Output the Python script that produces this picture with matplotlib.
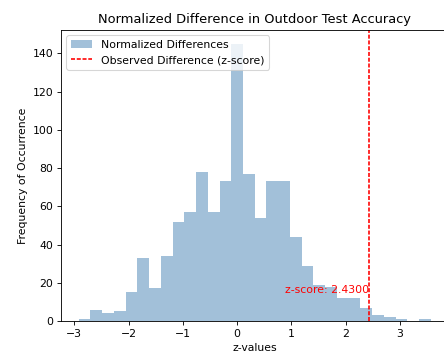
import matplotlib
matplotlib.use("Agg")
import matplotlib.pyplot as plt
import numpy as np

# Histogram of normalized differences, 30 bins
BIN_LO, BIN_HI = -2.92, 3.57
COUNTS = [1, 6, 4, 5, 15, 33, 17, 34, 52, 57,
          78, 57, 73, 145, 77, 54, 73, 73, 44, 29,
          19, 18, 12, 12, 7, 3, 2, 1, 0, 1]
# Observed difference as a z-score
Z_SCORE = 2.43

DPI = 78.125
fig = plt.figure(figsize=(444 / DPI, 352 / DPI), dpi=DPI)
# the reference is a cropped screenshot: the axes run past the right edge
ax = fig.add_axes([0.1374, 0.0881, 0.8727, 0.8267])

edges = np.linspace(BIN_LO, BIN_HI, len(COUNTS) + 1)
centers = (edges[:-1] + edges[1:]) / 2
ax.hist(centers, bins=edges, weights=COUNTS, color='steelblue', alpha=0.5,
        label='Normalized Differences')

# slightly thicker than 1pt so the thin dashes stay bright at this dpi,
# dash lengths kept the same as the default '--' at 1pt
ax.axvline(Z_SCORE, color='red', linestyle=(0, (2.47, 1.07)), linewidth=1.5,
           label='Observed Difference (z-score)')
ax.text(Z_SCORE, max(COUNTS) * 0.1, 'z-score: {:.4f}'.format(Z_SCORE),
        color='red', ha='right')

ax.set_title('Normalized Difference in Outdoor Test Accuracy')
ax.set_xlabel('z-values')
ax.set_ylabel('Frequency of Occurrence')
ax.legend(loc='upper left')

fig.savefig('out.png', dpi=DPI)
